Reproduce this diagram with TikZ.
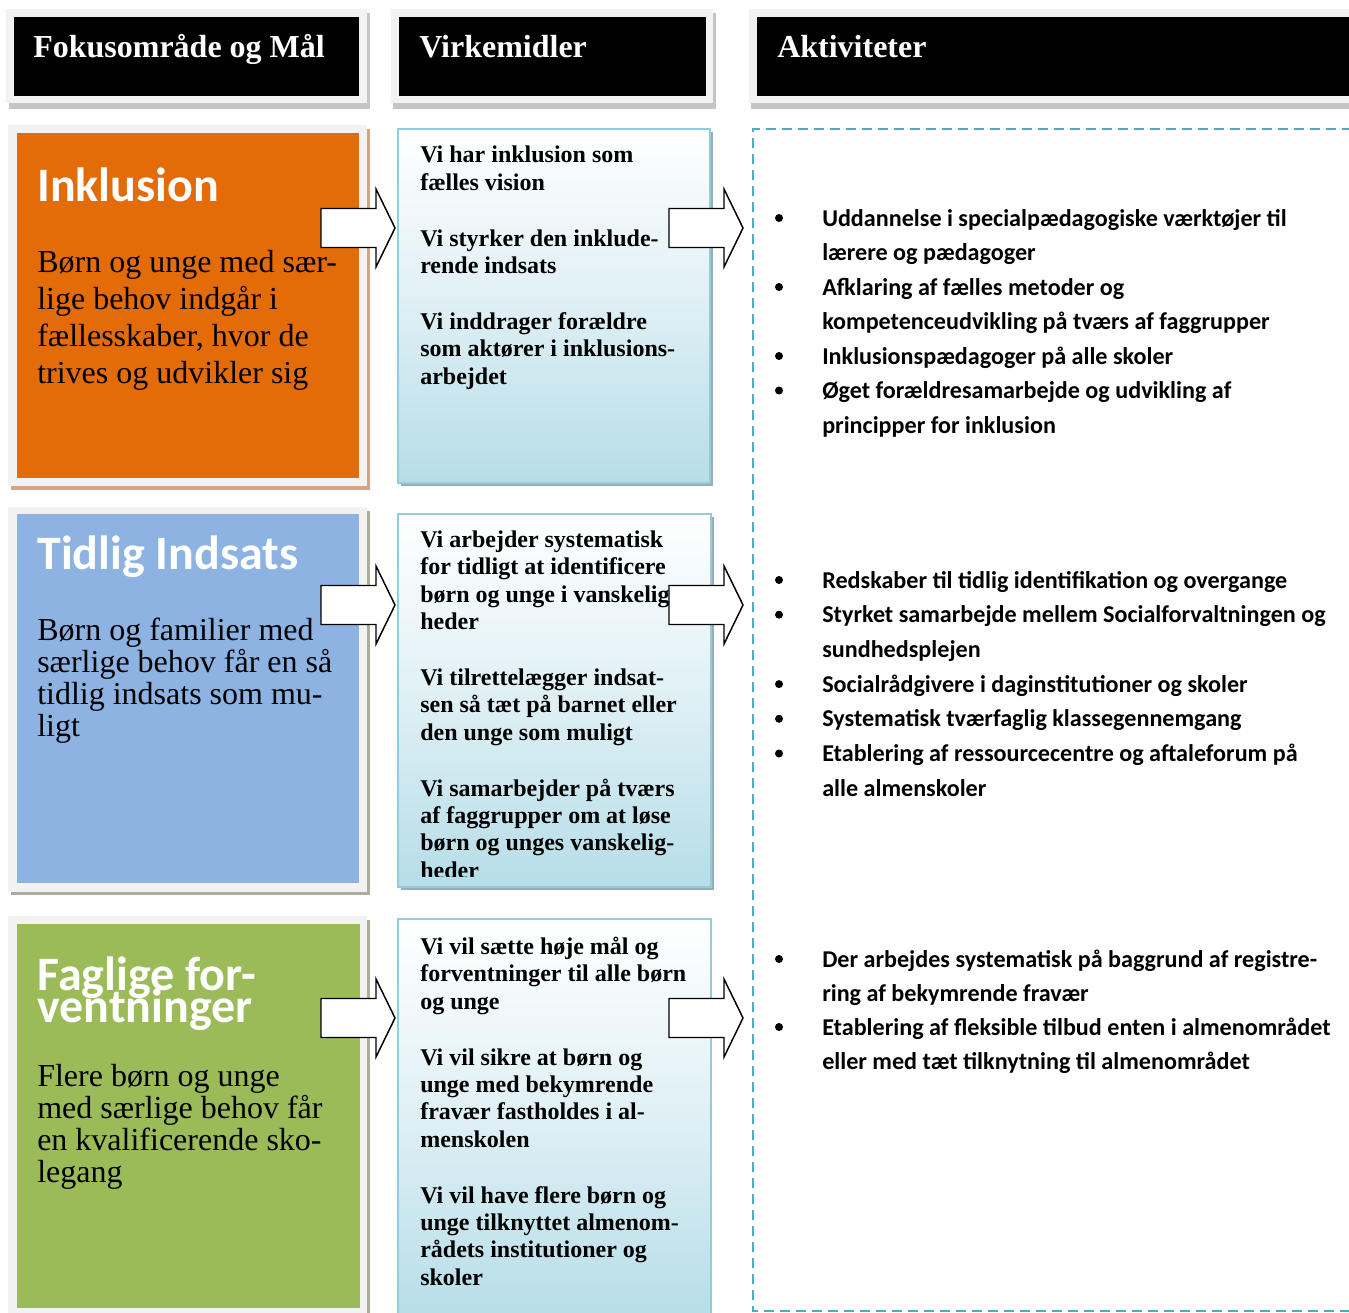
\documentclass[tikz,border=0pt]{standalone}
\usepackage{fontspec}
\setmainfont{Liberation Serif}
\newfontfamily\calibri{Carlito}
\usepackage{tikz}

\definecolor{orangeboks}{HTML}{E36C09}
\definecolor{blaaboks}{HTML}{8DB3E2}
\definecolor{groenboks}{HTML}{9BBB59}
\definecolor{rammegraa}{HTML}{F2F2F2}
\definecolor{skyggegraa}{HTML}{C6C6C6}
\definecolor{skyggetan}{HTML}{D4A484}
\definecolor{skyggeoliven}{HTML}{A9AF99}
\definecolor{midkant}{HTML}{92CDDC}
\definecolor{midbund}{HTML}{B6DDE8}
\definecolor{midskygge}{HTML}{97AEB5}
\definecolor{stiplet}{HTML}{4BACC6}

\begin{document}
\begin{tikzpicture}[x=0.75pt,y=-0.75pt,
    overskrift/.style={anchor=base west,inner sep=0,text=white,font=\fontsize{24}{28}\selectfont\bfseries},
    titel/.style={anchor=base west,inner sep=0,text=white,align=left,font=\calibri\fontsize{36}{24}\selectfont\bfseries\setlength{\lineskiplimit}{-1000pt}},
    maaltekst/.style={anchor=base west,inner sep=0,align=left,font=\fontsize{24}{24}\selectfont\setlength{\lineskiplimit}{-1000pt}},
    virktekst/.style={anchor=base west,inner sep=0,align=left,font=\fontsize{18}{20.5}\selectfont\bfseries\setlength{\lineskiplimit}{-1000pt}},
    akttekst/.style={anchor=base west,inner sep=0,font=\calibri\fontsize{18.1}{26}\selectfont\bfseries},
    midboks/.style={draw=midkant,line width=1.8pt,top color=white,bottom color=midbund,middle color=white!55!midbund},
    blokpil/.style={draw=black,fill=white,line width=1.1pt,line join=miter}]
    \useasboundingbox (0,0) rectangle (1349,1313);

    % overskrifter
    \fill[skyggegraa] (9,13) rectangle (370,109);
    \fill[rammegraa] (6,9) rectangle (367,103);
    \fill[black] (14,17) rectangle (359,96);
    \fill[skyggegraa] (393,13) rectangle (716,109);
    \fill[rammegraa] (391,9) rectangle (713,103);
    \fill[black] (399,17) rectangle (706,96);
    \fill[skyggegraa] (751,13) rectangle (1355,109);
    \fill[rammegraa] (749,9) rectangle (1352,103);
    \fill[black] (757,17) rectangle (1352,96);
    \node[overskrift] (hoved1) at (33,58) {Fokusområde og Mål};
    \node[overskrift] (hoved2) at (419,58) {Virkemidler};
    \node[overskrift] (hoved3) at (777,58) {Aktiviteter};

    % fokusomraader
    \fill[skyggetan] (11,129) rectangle (370,490);
    \fill[rammegraa] (8,125) rectangle (367,486);
    \fill[orangeboks] (17,133) rectangle (359,478);
    \fill[skyggeoliven] (11,511) rectangle (370,895);
    \fill[rammegraa] (8,507) rectangle (367,892);
    \fill[blaaboks] (17,514) rectangle (359,883);
    \fill[skyggeoliven] (11,920) rectangle (370,1320);
    \fill[rammegraa] (8,916) rectangle (367,1320);
    \fill[groenboks] (17,924) rectangle (360,1308);

    \node[titel] (titel1) at (37,201) {Inklusion};
    \node[titel] (titel2) at (37,569) {Tidlig Indsats};
    \node[titel] (titel3) at (37,1022) {Faglige for-\\ventninger};

    % ankret i sidste linjes grundlinje
    \node[maaltekst,font=\fontsize{24}{27.75}\selectfont] (maal1) at (37,383)
        {Børn og unge med sær-\\lige behov indgår i\\fællesskaber, hvor de\\trives og udvikler sig};
    \node[maaltekst] (maal2) at (37,736)
        {Børn og familier med\\særlige behov får en så\\tidlig indsats som mu-\\ligt};
    \node[maaltekst] (maal3) at (37,1182)
        {Flere børn og unge\\med særlige behov får\\en kvalificerende sko-\\legang};

    % virkemidler
    \fill[midskygge] (401,132) rectangle (713,486);
    \draw[midboks] (398,129) rectangle (710,483);
    \fill[midskygge] (401,517) rectangle (714,890);
    \draw[midboks] (398,514) rectangle (711,887);
    \draw[midboks] (398,919) rectangle (711,1320);

    \node[virktekst] (virk1) at (420,384)
        {Vi har inklusion som\\fælles vision\\[21.5pt]Vi styrker den inklude-\\rende indsats\\[21.5pt]Vi inddrager forældre\\som aktører i inklusions-\\arbejdet};
    \begin{scope}
        \clip (398,514) rectangle (711,876);
        \node[virktekst] (virk2) at (420,878)
            {Vi arbejder systematisk\\for tidligt at identificere\\børn og unge i vanskelig-\\heder\\[21.5pt]Vi tilrettelægger indsat-\\sen så tæt på barnet eller\\den unge som muligt\\[21.5pt]Vi samarbejder på tværs\\af faggrupper om at løse\\børn og unges vanskelig-\\heder};
    \end{scope}
    \node[virktekst] (virk3) at (420,1285)
        {Vi vil sætte høje mål og\\forventninger til alle børn\\og unge\\[21.5pt]Vi vil sikre at børn og\\unge med bekymrende\\fravær fastholdes i al-\\menskolen\\[21.5pt]Vi vil have flere børn og\\unge tilknyttet almenom-\\rådets institutioner og\\skoler};

    % aktiviteter
    \draw[stiplet,line width=1.7pt,dash pattern=on 7.5pt off 4.5pt] (1352,129) -- (753,129) -- (753,1311) -- (1352,1311);

    \foreach \y in {226,295,364,398.5,588,622.7,692.1,726.8,761.5,967,1035}
        \fill (779,\y-8) circle (4);
    \foreach \y/\txt [count=\i] in {226/Uddannelse i specialpædagogiske værktøjer til,
        260.5/lærere og pædagoger,
        295/Afklaring af fælles metoder og,
        329.5/kompetenceudvikling på tværs af faggrupper,
        364/Inklusionspædagoger på alle skoler,
        398.5/Øget forældresamarbejde og udvikling af,
        433/principper for inklusion,
        588/Redskaber til tidlig identifikation og overgange,
        622.7/Styrket samarbejde mellem Socialforvaltningen og,
        657.4/sundhedsplejen,
        692.1/Socialrådgivere i daginstitutioner og skoler,
        726.8/Systematisk tværfaglig klassegennemgang,
        761.5/Etablering af ressourcecentre og aftaleforum på,
        796.2/alle almenskoler,
        967/Der arbejdes systematisk på baggrund af registre-,
        1001.7/ring af bekymrende fravær,
        1035/Etablering af fleksible tilbud enten i almenområdet,
        1069.5/eller med tæt tilknytning til almenområdet}
        \node[akttekst] (akt\i) at (822,\y) {\txt};

    % blokpile
    \foreach \ay in {228,605,1018} {
        \foreach \ax in {321,669} {
            \draw[blokpil] (\ax,\ay-19.5) -- ++(55,0) -- ++(0,-19.5) -- ++(19,39)
                -- ++(-19,39) -- ++(0,-19.5) -- ++(-55,0) -- cycle;
        }
    }
\end{tikzpicture}
\end{document}
